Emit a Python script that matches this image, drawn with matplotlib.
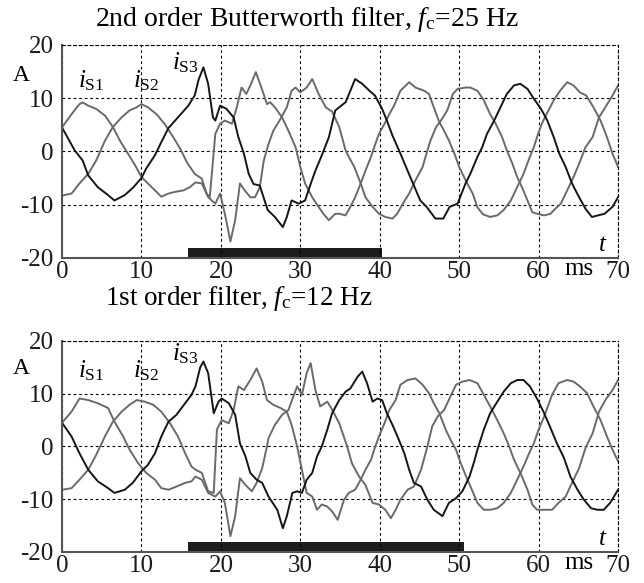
import matplotlib
matplotlib.use('Agg')
import matplotlib.pyplot as plt
import numpy as np

plt.rcParams['font.family'] = 'Liberation Serif'
plt.rcParams['mathtext.fontset'] = 'custom'
plt.rcParams['mathtext.rm'] = 'Liberation Serif'
plt.rcParams['mathtext.it'] = 'Liberation Serif:italic'
plt.rcParams['axes.unicode_minus'] = False

# (t in ms, current in A)
# --- upper panel: 2nd order Butterworth, fc = 25 Hz
s3_top = np.array([
    (0, 4.5), (1.6, 0.2), (2.6, -1.7), (3.3, -4.5), (4.5, -6.7), (5.8, -8.2), (6.6, -9.2),
    (7.9, -8.2), (9.0, -6.7), (10.0, -5.0), (10.6, -3.2), (11.7, -0.7), (12.5, 1.75),
    (13.4, 4.4), (14.6, 6.4), (15.9, 8.6), (16.7, 10.5), (17.2, 13.5), (17.8, 15.8),
    (18.4, 12.7), (19.0, 6.4), (19.3, 5.8), (19.9, 8.6), (20.7, 8.0), (21.6, 6.4),
    (22.2, 2.7), (22.9, -0.4), (23.5, -4.2), (24.1, -6.1), (24.9, -6.4), (25.5, -9.2),
    (25.9, -11.0), (26.8, -12.3), (27.8, -14.2), (28.3, -12.3), (28.9, -9.2), (29.8, -9.8),
    (30.6, -9.2), (31.3, -6.1), (31.9, -3.6), (32.7, -0.75), (33.6, 2.7), (34.4, 7.7),
    (34.9, 8.3), (35.7, 9.25), (36.3, 11.4), (36.9, 13.6), (37.8, 12.7), (38.7, 11.4),
    (39.4, 10.5), (40.3, 8.0), (40.9, 5.8), (41.6, 3.0), (42.6, -0.4), (43.5, -3.6),
    (44.3, -6.4), (45.1, -9.2), (45.9, -10.4), (47.0, -12.6), (48.0, -12.6), (48.8, -10.4),
    (49.8, -9.8), (50.8, -6.0), (51.4, -4.2), (52.3, -1.0), (52.9, 0.8), (53.5, 3.3),
    (54.4, 5.8), (55.2, 8.3), (56.0, 10.8), (56.9, 12.4), (57.7, 12.7), (58.6, 11.75),
    (59.4, 9.9), (60.3, 8.0), (61.1, 5.8), (61.9, 2.7), (62.6, -0.4), (63.4, -2.9),
    (64.2, -6.0), (65.1, -8.6), (65.9, -10.75), (66.7, -12.3), (67.5, -12.0), (68.3, -11.7),
    (69.3, -10.4), (70, -8.6)])

s1_top = np.array([
    (0, 4.5), (1.2, 7.0), (2.2, 8.9), (2.6, 9.2), (3.3, 8.6), (4.3, 8.0), (5.4, 6.75),
    (6.4, 4.6), (7.3, 2.0), (8.3, -0.4), (9.2, -2.6), (10.0, -4.8), (10.8, -6.0),
    (11.7, -7.3), (12.5, -8.5), (13.4, -7.9), (14.2, -7.6), (15.3, -7.3), (16.1, -6.7),
    (16.8, -5.8), (17.6, -6.0), (18.4, -8.6), (19.3, -9.8), (19.9, -7.9), (20.5, -11.7),
    (21.2, -16.9), (21.8, -12.9), (22.4, -6.0), (23.0, -7.3), (23.7, -8.6), (24.3, -8.6),
    (24.9, -6.7), (25.4, -1.7), (26.0, 1.4), (26.6, 3.9), (27.5, 6.1), (28.3, 8.3),
    (28.9, 11.4), (29.4, 12.0), (30.0, 11.1), (30.8, 12.0), (31.5, 13.6), (32.3, 10.8),
    (33.2, 8.3), (34.0, 7.5), (34.9, 4.6), (35.7, 0.2), (36.1, -1.0), (36.8, -2.9),
    (37.6, -6.0), (38.2, -8.6), (39.1, -10.4), (39.9, -11.7), (40.7, -12.3), (41.6, -12.6),
    (42.2, -11.7), (42.9, -9.8), (43.7, -7.9), (44.5, -5.4), (45.4, -2.9), (46.0, 0.2),
    (46.4, 2.1), (47.1, 4.6), (47.7, 5.8), (48.5, 7.7), (49.2, 10.8), (49.8, 11.75),
    (50.8, 12.0), (51.4, 12.0), (52.3, 11.4), (53.1, 9.6), (53.9, 7.0), (54.6, 5.2),
    (55.4, 2.7), (56.0, 0.2), (56.7, -2.3), (57.3, -4.8), (57.9, -6.7), (58.6, -9.2),
    (59.2, -11.4), (59.8, -11.7), (60.7, -12.0), (61.5, -11.7), (62.1, -10.75), (62.8, -9.8),
    (63.6, -7.3), (64.4, -4.8), (65.1, -2.3), (65.9, 0.8), (66.8, 2.7), (67.6, 6.4),
    (68.4, 8.3), (69.3, 10.5), (70, 12.4)])

s2_top = np.array([
    (0, -8.3), (1.2, -7.9), (2.2, -6.0), (3.3, -4.2), (4.3, -1.7), (5.4, 2.0), (6.4, 4.6),
    (7.5, 6.4), (8.5, 7.7), (9.4, 8.3), (10.0, 8.9), (10.8, 8.3), (11.9, 7.0), (12.9, 5.2),
    (14.0, 2.7), (15.0, 0.2), (15.7, -2.0), (16.7, -4.2), (17.6, -5.1), (18.2, -7.9),
    (18.6, -8.6), (19.3, 3.3), (19.9, 5.2), (20.5, 5.8), (21.4, 5.2), (22.0, 8.3),
    (22.6, 12.0), (23.2, 10.8), (23.8, 12.7), (24.4, 14.9), (25.1, 12.0), (25.8, 8.9),
    (26.2, 9.25), (26.8, 8.3), (27.7, 6.4), (28.5, 3.9), (29.4, 0.8), (30.0, -2.9),
    (30.6, -6.0), (31.5, -8.6), (32.3, -10.4), (32.9, -11.7), (33.6, -12.9), (34.4, -11.7),
    (34.9, -11.7), (35.7, -12.0), (36.3, -10.4), (36.9, -8.6), (37.6, -6.0), (38.2, -3.6),
    (38.9, -1.0), (39.3, 0.8), (39.9, 3.3), (40.6, 5.2), (41.2, 7.0), (41.8, 8.6),
    (42.6, 11.4), (43.7, 13.0), (44.5, 12.0), (45.6, 11.4), (46.2, 10.8), (46.8, 8.3),
    (47.5, 5.5), (48.1, 3.9), (48.7, 2.1), (49.4, -0.4), (50.0, -2.9), (50.8, -5.4),
    (51.7, -7.9), (52.3, -10.5), (53.0, -11.8), (53.9, -12.3), (54.8, -12.0), (55.6, -11.0),
    (56.5, -9.2), (57.3, -6.7), (58.1, -4.2), (58.9, -1.0), (59.4, 0.8), (59.8, 2.7),
    (60.4, 5.2), (61.0, 7.0), (61.9, 9.6), (62.7, 11.4), (63.6, 13.0), (64.4, 12.4),
    (65.2, 11.1), (66.0, 10.5), (66.9, 8.3), (67.8, 5.8), (68.6, 2.7), (69.3, -0.4),
    (70, -2.9)])

# --- lower panel: 1st order filter, fc = 12 Hz
s3_bot = np.array([
    (0, 4.5), (1.2, 1.9), (2.2, -1.3), (3.3, -4.4), (4.5, -6.6), (5.8, -7.9), (6.6, -8.8),
    (7.9, -8.2), (8.9, -6.9), (10.0, -4.7), (10.8, -3.5), (11.7, -1.3), (12.5, 1.9),
    (13.4, 4.7), (14.4, 6.0), (15.5, 8.2), (16.3, 9.8), (16.8, 11.4), (17.4, 15.0),
    (17.8, 16.1), (18.4, 13.9), (19.1, 6.3), (19.7, 8.5), (20.1, 9.1), (21.0, 8.2),
    (21.8, 6.0), (22.4, 0.6), (23.1, -1.9), (23.7, -5.0), (24.5, -6.3), (25.2, -6.9),
    (26.0, -9.5), (27.1, -12.0), (27.8, -15.5), (28.3, -13.2), (29.0, -8.8), (29.6, -8.5),
    (30.2, -8.8), (30.8, -6.3), (31.5, -5.0), (32.1, -1.9), (32.7, 0.0), (33.4, 3.2),
    (34.0, 6.3), (34.9, 8.8), (35.7, 10.4), (36.3, 11.0), (37.2, 13.2), (37.8, 14.2),
    (38.4, 12.0), (39.1, 8.5), (39.7, 9.1), (40.3, 8.8), (40.9, 6.3), (41.6, 4.1),
    (42.4, 1.3), (43.1, -1.3), (43.7, -4.4), (44.3, -6.9), (45.2, -7.6), (46.0, -10.1),
    (46.8, -12.0), (47.9, -13.2), (48.7, -10.7), (49.6, -9.8), (50.4, -8.5), (51.3, -5.7),
    (51.9, -2.8), (52.3, -0.6), (53.1, 3.2), (53.9, 6.3), (54.8, 8.5), (55.6, 10.4),
    (56.5, 12.0), (57.3, 12.6), (58.1, 12.6), (58.9, 11.4), (59.8, 9.1), (60.7, 6.3),
    (61.5, 3.5), (62.3, 0.6), (63.2, -2.2), (64.0, -5.7), (64.9, -8.2), (65.7, -10.1),
    (66.6, -11.7), (67.4, -12.0), (68.2, -12.0), (69.0, -10.7), (70, -8.2)])

s1_bot = np.array([
    (0, 4.5), (1.2, 6.6), (2.2, 9.1), (3.3, 8.8), (4.5, 8.2), (5.8, 7.3), (6.6, 4.7),
    (7.7, 1.9), (8.5, -0.6), (9.6, -3.2), (10.6, -5.0), (11.7, -6.3), (12.5, -7.9),
    (13.4, -8.2), (14.4, -7.6), (15.5, -6.9), (16.3, -6.6), (16.8, -5.7), (17.6, -6.3),
    (18.4, -8.8), (19.3, -9.5), (19.9, -8.5), (20.5, -10.7), (21.2, -17.0), (21.8, -13.2),
    (22.4, -6.0), (23.1, -7.3), (23.9, -8.5), (24.5, -6.9), (25.2, -4.1), (25.8, 0.0),
    (26.0, 1.6), (26.8, 4.1), (27.7, 6.0), (28.5, 6.9), (29.2, 9.8), (29.6, 11.4),
    (30.2, 9.8), (30.8, 13.9), (31.3, 15.8), (31.9, 10.7), (32.5, 7.6), (33.4, 8.5),
    (34.0, 7.0), (34.9, 4.4), (35.9, 0.0), (36.5, -3.2), (37.4, -5.7), (38.2, -7.3),
    (39.1, -10.7), (39.9, -11.0), (40.7, -12.0), (41.4, -13.6), (42.0, -12.0), (42.6, -10.1),
    (43.5, -8.2), (44.3, -7.6), (45.2, -4.4), (46.0, 0.0), (46.6, 3.8), (47.3, 5.7),
    (48.1, 6.9), (48.9, 9.5), (49.6, 11.7), (50.4, 12.3), (51.3, 12.6), (52.3, 12.0),
    (53.1, 9.8), (53.9, 7.6), (54.8, 5.0), (55.6, 2.5), (56.3, 0.0), (56.9, -2.5),
    (57.7, -5.0), (58.6, -8.2), (59.2, -11.0), (59.8, -12.0), (60.7, -12.0), (61.7, -12.0),
    (62.5, -10.7), (63.4, -9.5), (64.2, -6.9), (65.1, -4.1), (65.9, -0.3), (66.8, 2.5),
    (67.6, 6.6), (68.4, 8.8), (69.3, 10.7), (70, 12.6)])

s2_bot = np.array([
    (0, -8.2), (1.2, -7.9), (2.2, -6.3), (3.3, -4.4), (4.3, -1.6), (5.4, 1.9), (6.4, 4.7),
    (7.5, 6.6), (8.5, 7.9), (9.4, 8.8), (10.4, 8.5), (11.5, 7.9), (12.5, 6.6), (13.6, 4.4),
    (14.6, 1.9), (15.5, -1.3), (16.3, -3.8), (16.8, -4.4), (17.6, -5.0), (18.4, -8.5),
    (19.1, -8.8), (19.5, 3.2), (20.1, 5.0), (21.0, 4.4), (21.6, 6.9), (22.2, 11.4),
    (22.9, 10.7), (23.7, 12.6), (24.5, 14.8), (25.2, 12.3), (25.8, 8.8), (26.6, 7.9),
    (27.5, 7.3), (28.3, 6.6), (28.9, 4.1), (29.6, 0.0), (30.2, -4.4), (30.8, -8.8),
    (31.5, -9.5), (32.1, -12.0), (32.7, -11.0), (33.4, -11.4), (34.0, -12.3), (34.7, -13.9),
    (35.5, -10.1), (36.1, -8.8), (36.9, -8.2), (37.6, -6.3), (38.2, -4.4), (38.9, -2.5),
    (39.3, -0.6), (39.9, 1.9), (40.6, 4.4), (41.2, 6.9), (42.0, 8.8), (42.6, 11.7),
    (43.5, 12.6), (44.5, 12.9), (45.4, 11.7), (46.2, 10.1), (46.8, 8.2), (47.5, 6.3),
    (48.3, 3.2), (48.9, 1.3), (49.6, -0.6), (50.2, -3.2), (50.8, -5.4), (51.4, -7.5),
    (52.3, -10.7), (53.1, -12.0), (53.9, -12.0), (54.8, -11.7), (55.6, -10.7), (56.5, -8.8),
    (57.3, -6.3), (58.1, -3.8), (58.8, -1.3), (59.4, 0.6), (60.0, 3.2), (60.7, 5.7),
    (61.7, 9.8), (62.5, 12.0), (63.6, 12.6), (64.4, 12.3), (65.2, 11.4), (66.1, 10.1),
    (66.9, 7.6), (67.8, 5.0), (68.6, 1.9), (69.3, -0.6), (70, -2.8)])

# black bar below the traces (start, end in ms)
bar_top = (15.8, 40.3)
bar_bot = (15.8, 50.6)

xticks = [0, 10, 20, 30, 40, 50, 60, 70]
yticks = [-20, -10, 0, 10, 20]

dark = '#151515'
grey = '#6a6a6a'

fig = plt.figure(figsize=(6.44, 5.83), dpi=100)
ax1 = fig.add_axes([0.0963, 0.5575, 0.8634, 0.3654])
ax2 = fig.add_axes([0.0963, 0.0532, 0.8634, 0.3619])

def panel(ax, s1, s2, s3, bar, lab_y, s3_y, a_y):
    ax.plot(s1[:, 0], s1[:, 1], color=grey, lw=1.4)
    ax.plot(s2[:, 0], s2[:, 1], color=grey, lw=1.4)
    ax.plot(s3[:, 0], s3[:, 1], color=dark, lw=1.4)
    ax.fill_between(bar, -20, -18.1, color='#1c1c1c', lw=0)
    ax.set_xlim(0, 70)
    ax.set_ylim(-20, 20)
    ax.set_xticks(xticks)
    ax.set_yticks(yticks)
    ax.tick_params(length=0, labelsize=18, labelcolor='#1a1a1a')
    ax.tick_params(axis='y', pad=6)
    ax.tick_params(axis='x', pad=2)
    ax.grid(True, color='black', lw=0.8, ls=(0, (2.5, 2.5)))
    for side in ['top', 'right']:
        ax.spines[side].set_linestyle((0, (2.5, 2.5)))
        ax.spines[side].set_linewidth(0.8)
    for side in ['left', 'bottom']:
        ax.spines[side].set_color('#555555')
        ax.spines[side].set_linewidth(1.5)
    ax.text(65.1, -23.2, 'ms', fontsize=18, ha='center', va='baseline', clip_on=False)
    ax.text(68.1, -18.7, r'$t$', fontsize=18, ha='center', va='baseline')
    ax.text(-5.1, a_y, 'A', fontsize=17, ha='center', va='baseline', clip_on=False)
    ax.text(2.0, lab_y, r'$i_{\rm S1}$', fontsize=18, ha='left', va='baseline')
    ax.text(8.9, lab_y, r'$i_{\rm S2}$', fontsize=18, ha='left', va='baseline')
    ax.text(13.9, s3_y, r'$i_{\rm S3}$', fontsize=18, ha='left', va='baseline')

panel(ax1, s1_top, s2_top, s3_top, bar_top, 12.1, 15.5, 13.3)
panel(ax2, s1_bot, s2_bot, s3_bot, bar_bot, 13.1, 16.3, 13.8)

fig.text(95 / 644, 1 - 26 / 583, r'2nd order Butterworth filter, $f_{\rm c}$=25 Hz',
         fontsize=20, ha='left', va='baseline')
fig.text(105 / 644, 1 - 305 / 583, r'1st order filter, $f_{\rm c}$=12 Hz',
         fontsize=19.5, ha='left', va='baseline')

fig.savefig('out.png', dpi=100)
